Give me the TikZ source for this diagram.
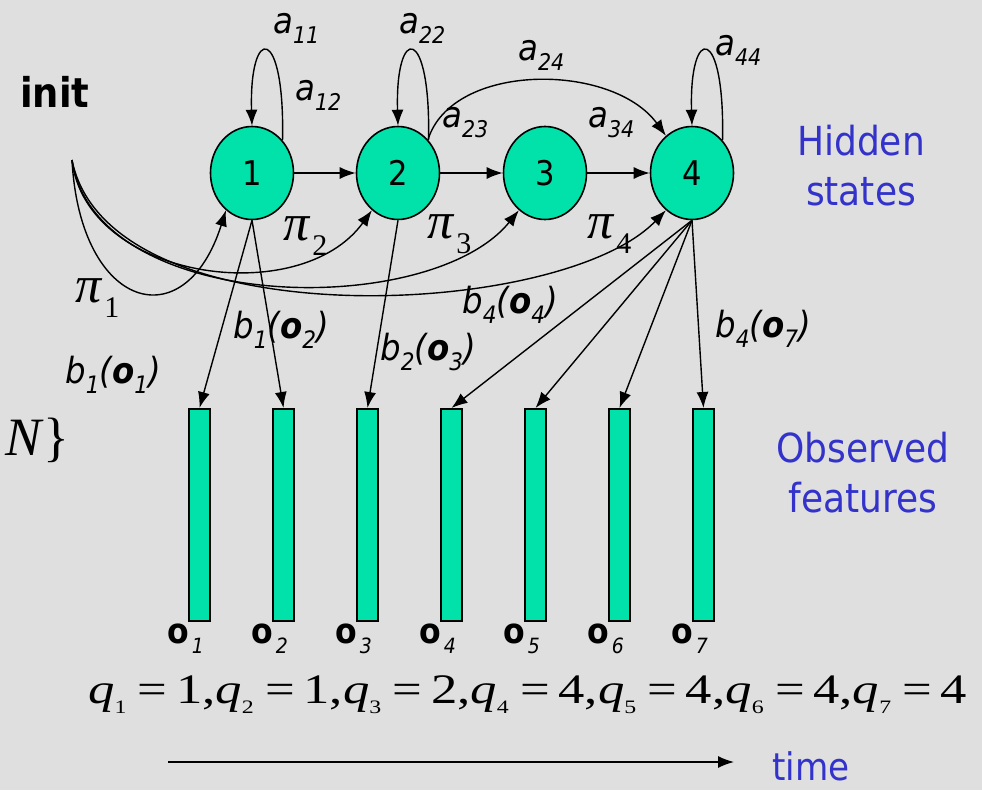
\documentclass[tikz,border=0pt]{standalone}
\usepackage{fontspec}
\usepackage{graphicx}
\usetikzlibrary{arrows.meta,shapes.geometric}
\newfontfamily\tah{DejaVu Sans}[FakeStretch=0.9]
\newfontfamily\tms{Liberation Serif}
\definecolor{stategreen}{RGB}{0,226,170}
\definecolor{labelblue}{RGB}{51,51,204}
\definecolor{bggray}{RGB}{223,223,223}
\newcommand\fs[1]{\fontsize{#1}{#1}\selectfont}
\newcommand\alab[1]{{\tah\itshape\fs{36}a\raisebox{-10pt}{\fs{23}#1}}}
\newcommand\blab[2]{{\tah\itshape\fs{36}b\raisebox{-10pt}{\fs{24}#1}(\textbf{o}\raisebox{-10pt}{\fs{24}#2})}}
\newcommand\olab[1]{{\tah\fs{35}\textbf{o}\kern3pt\raisebox{-10pt}{\itshape\fs{21}#1}}}
\newcommand\pilab[1]{{\tms\fs{52}\textit{π}\kern2pt\raisebox{-15pt}{\fs{30}#1}}}
\newcommand\qs[1]{\raisebox{-10pt}{\fs{19}#1}}
\newcommand\qq[2]{\textit{q}\qs{#1}\hspace{9pt}=\hspace{7pt}#2}
\begin{document}
\begin{tikzpicture}[x=1pt,y=-1pt,
  state/.style={ellipse, draw, line width=1.6pt, fill=stategreen, minimum width=83pt, minimum height=93pt, inner sep=0pt, font=\tah\fs{34}},
  bar/.style={rectangle, draw, line width=1.6pt, fill=stategreen, minimum width=21pt, minimum height=212pt, inner sep=0pt, anchor=north},
  arr/.style={line width=1.4pt, -{Latex[length=16pt,width=12pt]}},
  lbl/.style={inner sep=0pt, anchor=base west},
  blue/.style={inner sep=0pt, anchor=base, text=labelblue, font=\tah\fs{40}}]
\fill[bggray] (0,0) rectangle (982,790);
\useasboundingbox (0,0) rectangle (982,790);

% hidden states
\node[state] (s1) at (252,173) {1};
\node[state] (s2) at (398,173) {2};
\node[state] (s3) at (545,173) {3};
\node[state] (s4) at (692,173) {4};

% observation bars
\node[bar] (o1) at (199.5,408) {};
\node[bar] (o2) at (283.5,408) {};
\node[bar] (o3) at (367.5,408) {};
\node[bar] (o4) at (451.5,408) {};
\node[bar] (o5) at (535.5,408) {};
\node[bar] (o6) at (619.5,408) {};
\node[bar] (o7) at (703.5,408) {};

% transitions
\draw[arr] (s1) -- (s2);
\draw[arr] (s2) -- (s3);
\draw[arr] (s3) -- (s4);
\draw[arr] (s1.47) .. controls (285,24) and (249,24) .. (s1.north);
\draw[arr] (s2.47) .. controls (431,24) and (395,24) .. (s2.north);
\draw[arr] (s4.47) .. controls (725,24) and (689,24) .. (s4.north);
\draw[arr] (s2.48) .. controls (452,62) and (612,62) .. (s4.125);

% initial
\coordinate (ini) at (72,160);
\node[lbl, font=\tah\bfseries\fs{41}] (initl) at (20,107) {init};
\draw[arr] (ini) .. controls (80,310) and (185,340) .. (s1.235);
\draw[arr] (ini) .. controls (86,280) and (300,310) .. (s2.235);
\draw[arr] (ini) .. controls (95,315) and (430,320) .. (s3.235);
\draw[arr] (ini) .. controls (108,340) and (560,320) .. (s4.235);

% emissions
\draw[arr] (s1.south) -- (o1.north);
\draw[arr] (s1.south) -- (o2.north);
\draw[arr] (s2.south) -- (o3.north);
\draw[arr] (s4.south) -- (o4.north);
\draw[arr] (s4.south) -- (o5.north);
\draw[arr] (s4.south) -- (o6.north);
\draw[arr] (s4.south) -- (o7.north);

% transition labels
\node[lbl] (a11) at (273,33) {\alab{11}};
\node[lbl] (a12) at (295,100) {\alab{12}};
\node[lbl] (a22) at (399,33) {\alab{22}};
\node[lbl] (a23) at (442,127) {\alab{23}};
\node[lbl] (a24) at (518,60) {\alab{24}};
\node[lbl] (a34) at (588,127) {\alab{34}};
\node[lbl] (a44) at (715,55) {\alab{44}};

% initial probability labels
\node[lbl] (p1) at (75,302) {\pilab{1}};
\node[lbl] (p2) at (283,240) {\pilab{2}};
\node[lbl] (p3) at (427,238) {\pilab{3}};
\node[lbl] (p4) at (587,238) {\pilab{4}};

% emission labels
\node[lbl] (b11) at (65,383) {\blab{1}{1}};
\node[lbl] (b12) at (233,338) {\blab{1}{2}};
\node[lbl] (b23) at (380,360) {\blab{2}{3}};
\node[lbl] (b44) at (462,313) {\blab{4}{4}};
\node[lbl] (b47) at (715,337) {\blab{4}{7}};

% observation labels
\node[lbl] (l1) at (167,643) {\olab{1}};
\node[lbl] (l2) at (251,643) {\olab{2}};
\node[lbl] (l3) at (335,643) {\olab{3}};
\node[lbl] (l4) at (419,643) {\olab{4}};
\node[lbl] (l5) at (503,643) {\olab{5}};
\node[lbl] (l6) at (587,643) {\olab{6}};
\node[lbl] (l7) at (671,643) {\olab{7}};

\node[lbl] (nb) at (5,455) {\tms\fs{54}\textit{N}\}};

% state sequence
\node[lbl] (qseq) at (88,703) {\resizebox{879pt}{\height}{\tms\fs{42}\qq{1}{1},\qq{2}{1},\qq{3}{2},\qq{4}{4},\qq{5}{4},\qq{6}{4},\qq{7}{4}}};

% side labels
\node[blue] (hid1) at (861,155) {Hidden};
\node[blue] (hid2) at (861,205) {states};
\node[blue] (obs1) at (863,462) {Observed};
\node[blue] (obs2) at (863,512) {features};

% time axis
\coordinate (t0) at (168,762);
\coordinate (t1) at (734,762);
\draw[arr] (t0) -- (t1);
\node[blue, anchor=base west, font=\tah\fs{38}] (time) at (772,780) {time};
\end{tikzpicture}
\end{document}
